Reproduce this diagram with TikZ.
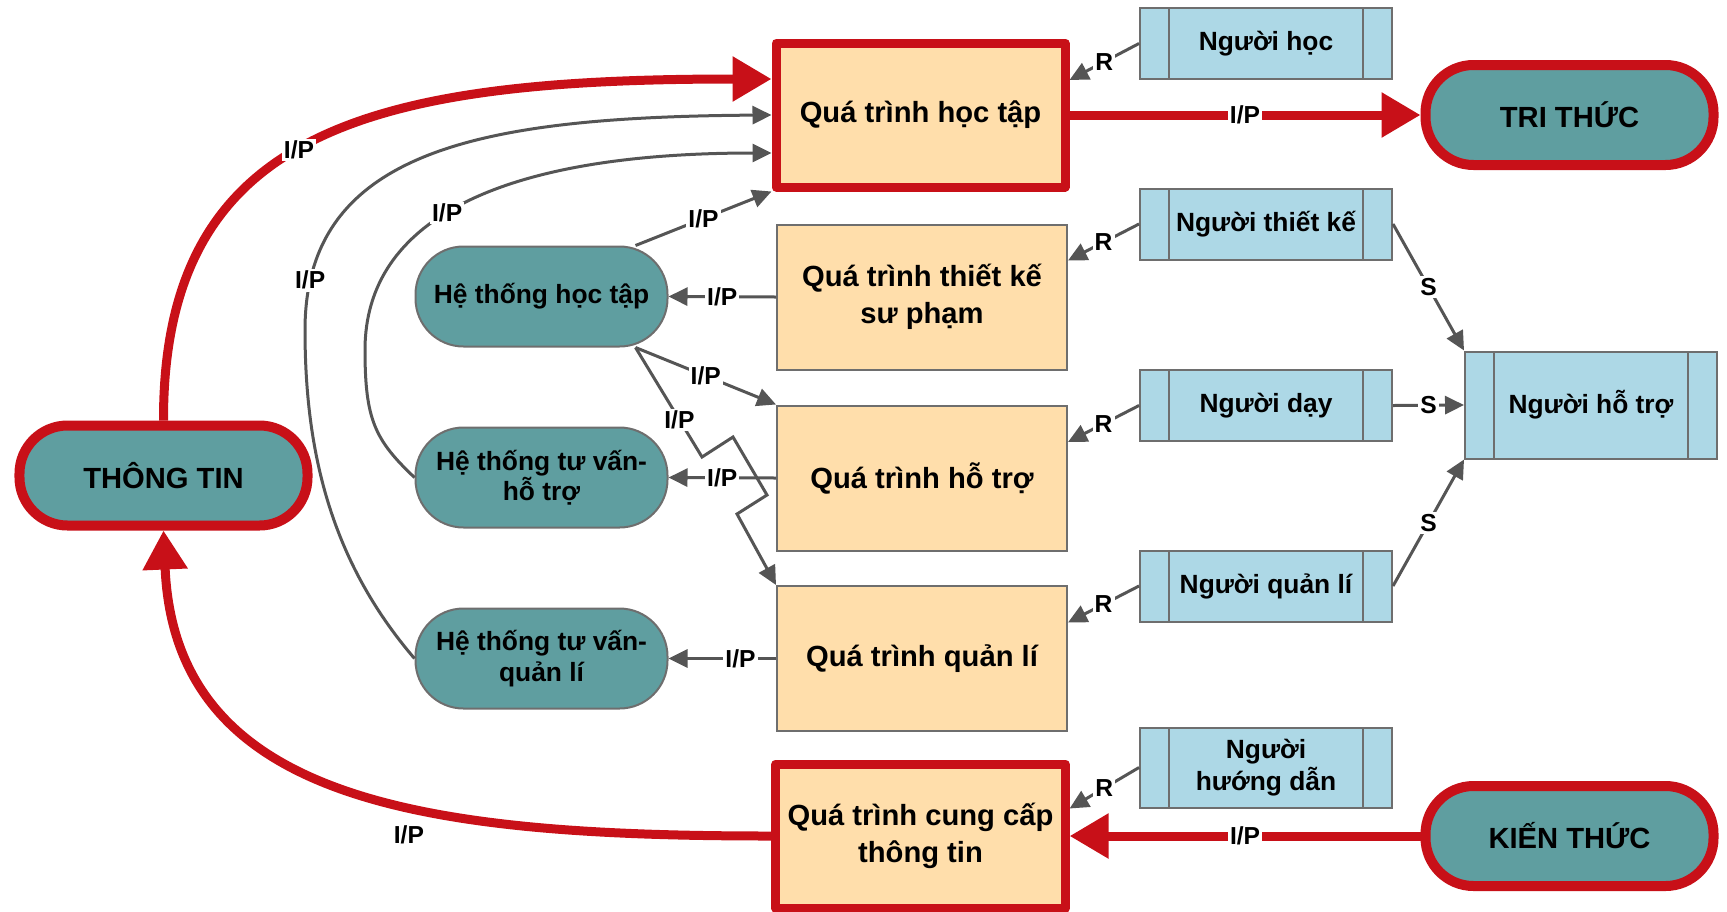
\documentclass[tikz,border=0pt]{standalone}
\usepackage{fontspec}
\setmainfont{Liberation Sans}
\usetikzlibrary{arrows.meta,calc}

\definecolor{dored}{RGB}{200,16,24}
\definecolor{sysfill}{RGB}{95,158,160}
\definecolor{procfill}{RGB}{255,222,171}
\definecolor{personfill}{RGB}{173,216,230}
\definecolor{linegray}{RGB}{85,85,85}
\definecolor{bordergray}{RGB}{110,110,110}

\tikzset{
    proc/.style={draw=bordergray, line width=0.02cm, fill=procfill, minimum width=2.9cm, minimum height=1.45cm, align=center, font=\fontsize{8.3}{10.4}\selectfont\bfseries},
    mainproc/.style={proc, draw=dored, line width=0.09cm, line join=round, minimum width=2.89cm, minimum height=1.44cm},
    sys/.style={draw=bordergray, line width=0.02cm, fill=sysfill, rounded corners=0.48cm, minimum width=2.52cm, minimum height=1.0cm, align=center, font=\fontsize{7.5}{8.6}\selectfont\bfseries},
    source/.style={draw=dored, line width=0.1cm, fill=sysfill, rounded corners=0.48cm, minimum width=2.88cm, minimum height=1.0cm, font=\fontsize{8.3}{10}\selectfont\bfseries},
    person/.style={draw=bordergray, line width=0.02cm, fill=personfill, minimum width=2.52cm, minimum height=0.71cm, align=center, font=\fontsize{7.5}{9}\selectfont\bfseries,
        path picture={\draw[bordergray, line width=0.02cm]
            ([xshift=0.29cm]path picture bounding box.north west) -- ([xshift=0.29cm]path picture bounding box.south west)
            ([xshift=-0.29cm]path picture bounding box.north east) -- ([xshift=-0.29cm]path picture bounding box.south east);}},
    flow/.style={draw=linegray, line width=0.03cm, -{Triangle[length=0.19cm, width=0.18cm]}},
    mainflow/.style={draw=dored, line width=0.09cm, -{Triangle[length=0.39cm, width=0.43cm]}},
    lbl/.style={fill=white, inner sep=0.6pt, font=\fontsize{7}{8}\selectfont\bfseries}
}

\begin{document}
\begin{tikzpicture}
        \useasboundingbox (0, 0) rectangle (17.27, 9.11);

        \node[mainproc] (qHocTap) at (9.205, 7.96) {Quá trình học tập};
        \node[proc] (qThietKe) at (9.22, 6.14) {Quá trình thiết kế\\sư phạm};
        \node[proc] (qHoTro) at (9.22, 4.33) {Quá trình hỗ trợ};
        \node[proc] (qQuanLi) at (9.22, 2.525) {Quá trình quản lí};
        \node[mainproc] (qCungCap) at (9.205, 0.75) {Quá trình cung cấp\\thông tin};

        \node[person] (nHoc) at (12.66, 8.675) {Người học};
        \node[person] (nThietKe) at (12.66, 6.87) {Người thiết kế};
        \node[person] (nDay) at (12.66, 5.055) {Người dạy};
        \node[person] (nQuanLi) at (12.66, 3.25) {Người quản lí};
        \node[person] (nHuongDan) at (12.66, 1.435) {Người\\hướng dẫn};
        \node[person, minimum height=1.07cm] (nHoTro) at (15.91, 5.06) {Người hỗ trợ};

        \node[source] (triThuc) at (15.695, 7.96) {TRI THỨC};
        \node[source] (kienThuc) at (15.695, 0.75) {KIẾN THỨC};
        \node[source] (thongTin) at (1.635, 4.355) {THÔNG TIN};

        \node[sys] (hHocTap) at (5.415, 6.145) {Hệ thống học tập};
        \node[sys] (hHoTro) at (5.415, 4.335) {Hệ thống tư vấn-\\hỗ trợ};
        \node[sys] (hQuanLi) at (5.415, 2.525) {Hệ thống tư vấn-\\quản lí};

        \coordinate (z1) at (7.02, 4.54);
        \coordinate (z2) at (7.33, 4.74);
        \coordinate (z3) at (7.67, 4.16);
        \coordinate (z4) at (7.37, 3.97);

        \draw[mainflow] (qHocTap.east) -- node[lbl] {I/P} (triThuc.west);
        \draw[mainflow] (kienThuc.west) -- node[lbl] {I/P} (qCungCap.east);
        \draw[mainflow] (thongTin.north) .. controls (1.63, 7.81) and (3.7, 8.32) .. node[lbl, pos=0.47] {I/P} ([yshift=0.36cm]qHocTap.west);
        \draw[mainflow] (qCungCap.west) .. controls (4.2, 0.75) and (1.75, 1.11) .. node[lbl, pos=0.4, yshift=-0.29cm] {I/P} (thongTin.south);

        \draw[flow] (hQuanLi.west) .. controls (3.3, 3.51) and (3.05, 4.61) .. (3.05, 5.81) .. controls (3.05, 7.61) and (4.8, 7.94) .. node[lbl, pos=0.1] {I/P} (qHocTap.west);
        \draw[flow] (hHoTro.west) .. controls (3.75, 4.71) and (3.65, 4.91) .. (3.65, 5.61) .. controls (3.65, 6.91) and (5.0, 7.58) .. node[lbl, pos=0.45] {I/P} ([yshift=-0.38cm]qHocTap.west);

        \draw[flow] ([xshift=-0.33cm]hHocTap.north east) -- node[lbl] {I/P} (qHocTap.south west);
        \draw[flow] ([xshift=-0.33cm]hHocTap.south east) -- node[lbl] {I/P} (qHoTro.north west);
        \draw[flow] ([xshift=-0.33cm]hHocTap.south east) -- node[lbl, pos=0.66] {I/P} (z1) -- (z2) -- (z3) -- (z4) -- (qQuanLi.north west);

        \draw[flow] (qThietKe.west) -- node[lbl] {I/P} (hHocTap.east);
        \draw[flow] (qHoTro.west) -- node[lbl] {I/P} (hHoTro.east);
        \draw[flow] (qQuanLi.west) -- node[lbl, pos=0.33] {I/P} (hQuanLi.east);

        \draw[flow] (nHoc.west) -- node[lbl] {R} (qHocTap.east |- nHoc.south);
        \draw[flow] (nThietKe.west) -- node[lbl] {R} (qThietKe.east |- nThietKe.south);
        \draw[flow] (nDay.west) -- node[lbl] {R} (qHoTro.east |- nDay.south);
        \draw[flow] (nQuanLi.west) -- node[lbl] {R} (qQuanLi.east |- nQuanLi.south);
        \draw[flow] (nHuongDan.west) -- node[lbl] {R} (qCungCap.east |- nHuongDan.south);

        \draw[flow] (nThietKe.east) -- node[lbl] {S} (nHoTro.north west);
        \draw[flow] (nDay.east) -- node[lbl] {S} (nHoTro.west);
        \draw[flow] (nQuanLi.east) -- node[lbl] {S} (nHoTro.south west);

\end{tikzpicture}
\end{document}
